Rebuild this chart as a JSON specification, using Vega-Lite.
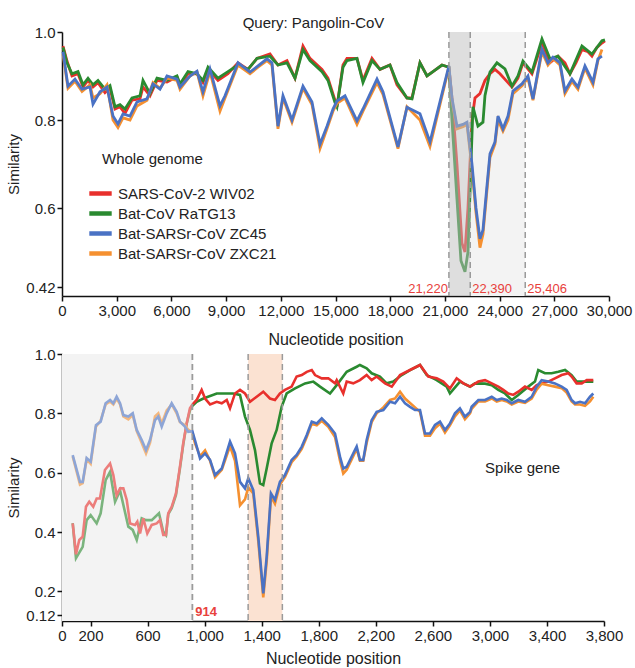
{
"$schema": "https://vega.github.io/schema/vega-lite/v6.json",
"padding": {"left": 6, "top": 16, "right": 4, "bottom": 2},
"config": {"font": "Liberation Sans", "view": {"stroke": null},
 "axis": {"grid": false, "domainColor": "#111", "domainWidth": 1.5, "tickColor": "#111", "tickWidth": 1.5, "tickSize": 5, "labelFontSize": 15, "labelColor": "#222", "titleFontSize": 15, "titleFontWeight": "normal", "titleColor": "#222", "labelPadding": 2, "labelOverlap": false, "labelFlush": false}},
"datasets": {
"top": [
{"pos":55,"sim":0.968,"virus":"SARS-CoV-2 WIV02"},{"pos":274,"sim":0.934,"virus":"SARS-CoV-2 WIV02"},{"pos":548,"sim":0.90,"virus":"SARS-CoV-2 WIV02"},{"pos":877,"sim":0.905,"virus":"SARS-CoV-2 WIV02"},{"pos":1152,"sim":0.875,"virus":"SARS-CoV-2 WIV02"},{"pos":1426,"sim":0.89,"virus":"SARS-CoV-2 WIV02"},{"pos":1700,"sim":0.875,"virus":"SARS-CoV-2 WIV02"},{"pos":1974,"sim":0.885,"virus":"SARS-CoV-2 WIV02"},{"pos":2358,"sim":0.862,"virus":"SARS-CoV-2 WIV02"},{"pos":2632,"sim":0.872,"virus":"SARS-CoV-2 WIV02"},{"pos":2907,"sim":0.825,"virus":"SARS-CoV-2 WIV02"},{"pos":3181,"sim":0.83,"virus":"SARS-CoV-2 WIV02"},{"pos":3455,"sim":0.815,"virus":"SARS-CoV-2 WIV02"},{"pos":3839,"sim":0.845,"virus":"SARS-CoV-2 WIV02"},{"pos":4278,"sim":0.848,"virus":"SARS-CoV-2 WIV02"},{"pos":4442,"sim":0.875,"virus":"SARS-CoV-2 WIV02"},{"pos":4826,"sim":0.855,"virus":"SARS-CoV-2 WIV02"},{"pos":5210,"sim":0.89,"virus":"SARS-CoV-2 WIV02"},{"pos":5758,"sim":0.886,"virus":"SARS-CoV-2 WIV02"},{"pos":6307,"sim":0.898,"virus":"SARS-CoV-2 WIV02"},{"pos":6471,"sim":0.878,"virus":"SARS-CoV-2 WIV02"},{"pos":6910,"sim":0.905,"virus":"SARS-CoV-2 WIV02"},{"pos":7403,"sim":0.905,"virus":"SARS-CoV-2 WIV02"},{"pos":7732,"sim":0.885,"virus":"SARS-CoV-2 WIV02"},{"pos":8007,"sim":0.915,"virus":"SARS-CoV-2 WIV02"},{"pos":8555,"sim":0.89,"virus":"SARS-CoV-2 WIV02"},{"pos":9103,"sim":0.905,"virus":"SARS-CoV-2 WIV02"},{"pos":9652,"sim":0.93,"virus":"SARS-CoV-2 WIV02"},{"pos":10200,"sim":0.915,"virus":"SARS-CoV-2 WIV02"},{"pos":10694,"sim":0.94,"virus":"SARS-CoV-2 WIV02"},{"pos":11407,"sim":0.95,"virus":"SARS-CoV-2 WIV02"},{"pos":11845,"sim":0.925,"virus":"SARS-CoV-2 WIV02"},{"pos":12339,"sim":0.935,"virus":"SARS-CoV-2 WIV02"},{"pos":12778,"sim":0.895,"virus":"SARS-CoV-2 WIV02"},{"pos":13216,"sim":0.968,"virus":"SARS-CoV-2 WIV02"},{"pos":13600,"sim":0.94,"virus":"SARS-CoV-2 WIV02"},{"pos":14258,"sim":0.915,"virus":"SARS-CoV-2 WIV02"},{"pos":14587,"sim":0.895,"virus":"SARS-CoV-2 WIV02"},{"pos":14971,"sim":0.845,"virus":"SARS-CoV-2 WIV02"},{"pos":15081,"sim":0.83,"virus":"SARS-CoV-2 WIV02"},{"pos":15410,"sim":0.925,"virus":"SARS-CoV-2 WIV02"},{"pos":15629,"sim":0.94,"virus":"SARS-CoV-2 WIV02"},{"pos":16178,"sim":0.94,"virus":"SARS-CoV-2 WIV02"},{"pos":16507,"sim":0.89,"virus":"SARS-CoV-2 WIV02"},{"pos":17000,"sim":0.94,"virus":"SARS-CoV-2 WIV02"},{"pos":17439,"sim":0.915,"virus":"SARS-CoV-2 WIV02"},{"pos":17988,"sim":0.925,"virus":"SARS-CoV-2 WIV02"},{"pos":18371,"sim":0.88,"virus":"SARS-CoV-2 WIV02"},{"pos":18920,"sim":0.85,"virus":"SARS-CoV-2 WIV02"},{"pos":19194,"sim":0.85,"virus":"SARS-CoV-2 WIV02"},{"pos":19633,"sim":0.93,"virus":"SARS-CoV-2 WIV02"},{"pos":20017,"sim":0.90,"virus":"SARS-CoV-2 WIV02"},{"pos":20346,"sim":0.91,"virus":"SARS-CoV-2 WIV02"},{"pos":20839,"sim":0.925,"virus":"SARS-CoV-2 WIV02"},{"pos":21220,"sim":0.92,"virus":"SARS-CoV-2 WIV02"},{"pos":21388,"sim":0.85,"virus":"SARS-CoV-2 WIV02"},{"pos":21662,"sim":0.70,"virus":"SARS-CoV-2 WIV02"},{"pos":21936,"sim":0.52,"virus":"SARS-CoV-2 WIV02"},{"pos":22101,"sim":0.50,"virus":"SARS-CoV-2 WIV02"},{"pos":22265,"sim":0.60,"virus":"SARS-CoV-2 WIV02"},{"pos":22484,"sim":0.80,"virus":"SARS-CoV-2 WIV02"},{"pos":22649,"sim":0.85,"virus":"SARS-CoV-2 WIV02"},{"pos":22923,"sim":0.86,"virus":"SARS-CoV-2 WIV02"},{"pos":23197,"sim":0.89,"virus":"SARS-CoV-2 WIV02"},{"pos":23472,"sim":0.905,"virus":"SARS-CoV-2 WIV02"},{"pos":23746,"sim":0.915,"virus":"SARS-CoV-2 WIV02"},{"pos":24020,"sim":0.905,"virus":"SARS-CoV-2 WIV02"},{"pos":24459,"sim":0.885,"virus":"SARS-CoV-2 WIV02"},{"pos":24678,"sim":0.875,"virus":"SARS-CoV-2 WIV02"},{"pos":25007,"sim":0.895,"virus":"SARS-CoV-2 WIV02"},{"pos":25281,"sim":0.93,"virus":"SARS-CoV-2 WIV02"},{"pos":25775,"sim":0.905,"virus":"SARS-CoV-2 WIV02"},{"pos":26323,"sim":0.975,"virus":"SARS-CoV-2 WIV02"},{"pos":26762,"sim":0.93,"virus":"SARS-CoV-2 WIV02"},{"pos":27201,"sim":0.945,"virus":"SARS-CoV-2 WIV02"},{"pos":27584,"sim":0.93,"virus":"SARS-CoV-2 WIV02"},{"pos":27859,"sim":0.905,"virus":"SARS-CoV-2 WIV02"},{"pos":28188,"sim":0.93,"virus":"SARS-CoV-2 WIV02"},{"pos":28517,"sim":0.96,"virus":"SARS-CoV-2 WIV02"},{"pos":28846,"sim":0.955,"virus":"SARS-CoV-2 WIV02"},{"pos":29065,"sim":0.945,"virus":"SARS-CoV-2 WIV02"},{"pos":29339,"sim":0.965,"virus":"SARS-CoV-2 WIV02"},{"pos":29614,"sim":0.975,"virus":"SARS-CoV-2 WIV02"},{"pos":29778,"sim":0.98,"virus":"SARS-CoV-2 WIV02"},
{"pos":55,"sim":0.965,"virus":"Bat-CoV RaTG13"},{"pos":274,"sim":0.93,"virus":"Bat-CoV RaTG13"},{"pos":548,"sim":0.905,"virus":"Bat-CoV RaTG13"},{"pos":877,"sim":0.91,"virus":"Bat-CoV RaTG13"},{"pos":1152,"sim":0.88,"virus":"Bat-CoV RaTG13"},{"pos":1426,"sim":0.895,"virus":"Bat-CoV RaTG13"},{"pos":1700,"sim":0.88,"virus":"Bat-CoV RaTG13"},{"pos":1974,"sim":0.89,"virus":"Bat-CoV RaTG13"},{"pos":2358,"sim":0.87,"virus":"Bat-CoV RaTG13"},{"pos":2632,"sim":0.878,"virus":"Bat-CoV RaTG13"},{"pos":2907,"sim":0.83,"virus":"Bat-CoV RaTG13"},{"pos":3181,"sim":0.835,"virus":"Bat-CoV RaTG13"},{"pos":3455,"sim":0.825,"virus":"Bat-CoV RaTG13"},{"pos":3839,"sim":0.85,"virus":"Bat-CoV RaTG13"},{"pos":4278,"sim":0.855,"virus":"Bat-CoV RaTG13"},{"pos":4442,"sim":0.89,"virus":"Bat-CoV RaTG13"},{"pos":4826,"sim":0.86,"virus":"Bat-CoV RaTG13"},{"pos":5210,"sim":0.895,"virus":"Bat-CoV RaTG13"},{"pos":5758,"sim":0.89,"virus":"Bat-CoV RaTG13"},{"pos":6307,"sim":0.90,"virus":"Bat-CoV RaTG13"},{"pos":6471,"sim":0.882,"virus":"Bat-CoV RaTG13"},{"pos":6910,"sim":0.91,"virus":"Bat-CoV RaTG13"},{"pos":7403,"sim":0.905,"virus":"Bat-CoV RaTG13"},{"pos":7732,"sim":0.89,"virus":"Bat-CoV RaTG13"},{"pos":8007,"sim":0.92,"virus":"Bat-CoV RaTG13"},{"pos":8555,"sim":0.895,"virus":"Bat-CoV RaTG13"},{"pos":9103,"sim":0.91,"virus":"Bat-CoV RaTG13"},{"pos":9652,"sim":0.925,"virus":"Bat-CoV RaTG13"},{"pos":10200,"sim":0.915,"virus":"Bat-CoV RaTG13"},{"pos":10694,"sim":0.94,"virus":"Bat-CoV RaTG13"},{"pos":11407,"sim":0.945,"virus":"Bat-CoV RaTG13"},{"pos":11845,"sim":0.925,"virus":"Bat-CoV RaTG13"},{"pos":12339,"sim":0.93,"virus":"Bat-CoV RaTG13"},{"pos":12778,"sim":0.895,"virus":"Bat-CoV RaTG13"},{"pos":13216,"sim":0.96,"virus":"Bat-CoV RaTG13"},{"pos":13600,"sim":0.935,"virus":"Bat-CoV RaTG13"},{"pos":14258,"sim":0.91,"virus":"Bat-CoV RaTG13"},{"pos":14587,"sim":0.89,"virus":"Bat-CoV RaTG13"},{"pos":14971,"sim":0.84,"virus":"Bat-CoV RaTG13"},{"pos":15081,"sim":0.83,"virus":"Bat-CoV RaTG13"},{"pos":15410,"sim":0.92,"virus":"Bat-CoV RaTG13"},{"pos":15629,"sim":0.935,"virus":"Bat-CoV RaTG13"},{"pos":16178,"sim":0.94,"virus":"Bat-CoV RaTG13"},{"pos":16507,"sim":0.885,"virus":"Bat-CoV RaTG13"},{"pos":17000,"sim":0.935,"virus":"Bat-CoV RaTG13"},{"pos":17439,"sim":0.915,"virus":"Bat-CoV RaTG13"},{"pos":17988,"sim":0.925,"virus":"Bat-CoV RaTG13"},{"pos":18371,"sim":0.885,"virus":"Bat-CoV RaTG13"},{"pos":18920,"sim":0.85,"virus":"Bat-CoV RaTG13"},{"pos":19194,"sim":0.848,"virus":"Bat-CoV RaTG13"},{"pos":19633,"sim":0.93,"virus":"Bat-CoV RaTG13"},{"pos":20017,"sim":0.90,"virus":"Bat-CoV RaTG13"},{"pos":20346,"sim":0.91,"virus":"Bat-CoV RaTG13"},{"pos":20839,"sim":0.925,"virus":"Bat-CoV RaTG13"},{"pos":21220,"sim":0.92,"virus":"Bat-CoV RaTG13"},{"pos":21388,"sim":0.80,"virus":"Bat-CoV RaTG13"},{"pos":21662,"sim":0.62,"virus":"Bat-CoV RaTG13"},{"pos":21881,"sim":0.48,"virus":"Bat-CoV RaTG13"},{"pos":22101,"sim":0.455,"virus":"Bat-CoV RaTG13"},{"pos":22265,"sim":0.50,"virus":"Bat-CoV RaTG13"},{"pos":22430,"sim":0.70,"virus":"Bat-CoV RaTG13"},{"pos":22539,"sim":0.83,"virus":"Bat-CoV RaTG13"},{"pos":22813,"sim":0.786,"virus":"Bat-CoV RaTG13"},{"pos":23088,"sim":0.795,"virus":"Bat-CoV RaTG13"},{"pos":23197,"sim":0.855,"virus":"Bat-CoV RaTG13"},{"pos":23472,"sim":0.909,"virus":"Bat-CoV RaTG13"},{"pos":23855,"sim":0.93,"virus":"Bat-CoV RaTG13"},{"pos":24294,"sim":0.916,"virus":"Bat-CoV RaTG13"},{"pos":24678,"sim":0.877,"virus":"Bat-CoV RaTG13"},{"pos":25007,"sim":0.90,"virus":"Bat-CoV RaTG13"},{"pos":25281,"sim":0.934,"virus":"Bat-CoV RaTG13"},{"pos":25775,"sim":0.909,"virus":"Bat-CoV RaTG13"},{"pos":26323,"sim":0.984,"virus":"Bat-CoV RaTG13"},{"pos":26762,"sim":0.939,"virus":"Bat-CoV RaTG13"},{"pos":27201,"sim":0.945,"virus":"Bat-CoV RaTG13"},{"pos":27859,"sim":0.905,"virus":"Bat-CoV RaTG13"},{"pos":28517,"sim":0.968,"virus":"Bat-CoV RaTG13"},{"pos":29065,"sim":0.95,"virus":"Bat-CoV RaTG13"},{"pos":29614,"sim":0.98,"virus":"Bat-CoV RaTG13"},{"pos":29778,"sim":0.982,"virus":"Bat-CoV RaTG13"},
{"pos":55,"sim":0.95,"virus":"Bat-SARSr-CoV ZXC21"},{"pos":329,"sim":0.872,"virus":"Bat-SARSr-CoV ZXC21"},{"pos":713,"sim":0.888,"virus":"Bat-SARSr-CoV ZXC21"},{"pos":1097,"sim":0.865,"virus":"Bat-SARSr-CoV ZXC21"},{"pos":1536,"sim":0.88,"virus":"Bat-SARSr-CoV ZXC21"},{"pos":1700,"sim":0.85,"virus":"Bat-SARSr-CoV ZXC21"},{"pos":2084,"sim":0.86,"virus":"Bat-SARSr-CoV ZXC21"},{"pos":2468,"sim":0.88,"virus":"Bat-SARSr-CoV ZXC21"},{"pos":2797,"sim":0.80,"virus":"Bat-SARSr-CoV ZXC21"},{"pos":3071,"sim":0.783,"virus":"Bat-SARSr-CoV ZXC21"},{"pos":3345,"sim":0.805,"virus":"Bat-SARSr-CoV ZXC21"},{"pos":3729,"sim":0.80,"virus":"Bat-SARSr-CoV ZXC21"},{"pos":4113,"sim":0.832,"virus":"Bat-SARSr-CoV ZXC21"},{"pos":4661,"sim":0.845,"virus":"Bat-SARSr-CoV ZXC21"},{"pos":4990,"sim":0.885,"virus":"Bat-SARSr-CoV ZXC21"},{"pos":5374,"sim":0.872,"virus":"Bat-SARSr-CoV ZXC21"},{"pos":5758,"sim":0.895,"virus":"Bat-SARSr-CoV ZXC21"},{"pos":6307,"sim":0.89,"virus":"Bat-SARSr-CoV ZXC21"},{"pos":6471,"sim":0.87,"virus":"Bat-SARSr-CoV ZXC21"},{"pos":7020,"sim":0.90,"virus":"Bat-SARSr-CoV ZXC21"},{"pos":7403,"sim":0.91,"virus":"Bat-SARSr-CoV ZXC21"},{"pos":7732,"sim":0.855,"virus":"Bat-SARSr-CoV ZXC21"},{"pos":8116,"sim":0.91,"virus":"Bat-SARSr-CoV ZXC21"},{"pos":8665,"sim":0.82,"virus":"Bat-SARSr-CoV ZXC21"},{"pos":8939,"sim":0.85,"virus":"Bat-SARSr-CoV ZXC21"},{"pos":9652,"sim":0.925,"virus":"Bat-SARSr-CoV ZXC21"},{"pos":10310,"sim":0.905,"virus":"Bat-SARSr-CoV ZXC21"},{"pos":10749,"sim":0.92,"virus":"Bat-SARSr-CoV ZXC21"},{"pos":11242,"sim":0.935,"virus":"Bat-SARSr-CoV ZXC21"},{"pos":11516,"sim":0.925,"virus":"Bat-SARSr-CoV ZXC21"},{"pos":11845,"sim":0.78,"virus":"Bat-SARSr-CoV ZXC21"},{"pos":12120,"sim":0.85,"virus":"Bat-SARSr-CoV ZXC21"},{"pos":12613,"sim":0.795,"virus":"Bat-SARSr-CoV ZXC21"},{"pos":13216,"sim":0.872,"virus":"Bat-SARSr-CoV ZXC21"},{"pos":13710,"sim":0.835,"virus":"Bat-SARSr-CoV ZXC21"},{"pos":14149,"sim":0.735,"virus":"Bat-SARSr-CoV ZXC21"},{"pos":14533,"sim":0.78,"virus":"Bat-SARSr-CoV ZXC21"},{"pos":14862,"sim":0.82,"virus":"Bat-SARSr-CoV ZXC21"},{"pos":15081,"sim":0.838,"virus":"Bat-SARSr-CoV ZXC21"},{"pos":15520,"sim":0.85,"virus":"Bat-SARSr-CoV ZXC21"},{"pos":16178,"sim":0.79,"virus":"Bat-SARSr-CoV ZXC21"},{"pos":16507,"sim":0.82,"virus":"Bat-SARSr-CoV ZXC21"},{"pos":17275,"sim":0.885,"virus":"Bat-SARSr-CoV ZXC21"},{"pos":17604,"sim":0.858,"virus":"Bat-SARSr-CoV ZXC21"},{"pos":18426,"sim":0.735,"virus":"Bat-SARSr-CoV ZXC21"},{"pos":18920,"sim":0.83,"virus":"Bat-SARSr-CoV ZXC21"},{"pos":19633,"sim":0.80,"virus":"Bat-SARSr-CoV ZXC21"},{"pos":20181,"sim":0.74,"virus":"Bat-SARSr-CoV ZXC21"},{"pos":21220,"sim":0.92,"virus":"Bat-SARSr-CoV ZXC21"},{"pos":21388,"sim":0.845,"virus":"Bat-SARSr-CoV ZXC21"},{"pos":21662,"sim":0.78,"virus":"Bat-SARSr-CoV ZXC21"},{"pos":21991,"sim":0.785,"virus":"Bat-SARSr-CoV ZXC21"},{"pos":22210,"sim":0.79,"virus":"Bat-SARSr-CoV ZXC21"},{"pos":22484,"sim":0.69,"virus":"Bat-SARSr-CoV ZXC21"},{"pos":22704,"sim":0.59,"virus":"Bat-SARSr-CoV ZXC21"},{"pos":22923,"sim":0.51,"virus":"Bat-SARSr-CoV ZXC21"},{"pos":23088,"sim":0.54,"virus":"Bat-SARSr-CoV ZXC21"},{"pos":23307,"sim":0.64,"virus":"Bat-SARSr-CoV ZXC21"},{"pos":23472,"sim":0.715,"virus":"Bat-SARSr-CoV ZXC21"},{"pos":23746,"sim":0.745,"virus":"Bat-SARSr-CoV ZXC21"},{"pos":23910,"sim":0.80,"virus":"Bat-SARSr-CoV ZXC21"},{"pos":24184,"sim":0.775,"virus":"Bat-SARSr-CoV ZXC21"},{"pos":24459,"sim":0.80,"virus":"Bat-SARSr-CoV ZXC21"},{"pos":24733,"sim":0.86,"virus":"Bat-SARSr-CoV ZXC21"},{"pos":25226,"sim":0.878,"virus":"Bat-SARSr-CoV ZXC21"},{"pos":25555,"sim":0.895,"virus":"Bat-SARSr-CoV ZXC21"},{"pos":25830,"sim":0.845,"virus":"Bat-SARSr-CoV ZXC21"},{"pos":26323,"sim":0.955,"virus":"Bat-SARSr-CoV ZXC21"},{"pos":26652,"sim":0.925,"virus":"Bat-SARSr-CoV ZXC21"},{"pos":26926,"sim":0.94,"virus":"Bat-SARSr-CoV ZXC21"},{"pos":27310,"sim":0.925,"virus":"Bat-SARSr-CoV ZXC21"},{"pos":27584,"sim":0.86,"virus":"Bat-SARSr-CoV ZXC21"},{"pos":27968,"sim":0.888,"virus":"Bat-SARSr-CoV ZXC21"},{"pos":28298,"sim":0.87,"virus":"Bat-SARSr-CoV ZXC21"},{"pos":28681,"sim":0.918,"virus":"Bat-SARSr-CoV ZXC21"},{"pos":29120,"sim":0.88,"virus":"Bat-SARSr-CoV ZXC21"},{"pos":29394,"sim":0.935,"virus":"Bat-SARSr-CoV ZXC21"},{"pos":29614,"sim":0.96,"virus":"Bat-SARSr-CoV ZXC21"},
{"pos":55,"sim":0.955,"virus":"Bat-SARSr-CoV ZC45"},{"pos":329,"sim":0.877,"virus":"Bat-SARSr-CoV ZC45"},{"pos":713,"sim":0.893,"virus":"Bat-SARSr-CoV ZC45"},{"pos":1097,"sim":0.87,"virus":"Bat-SARSr-CoV ZC45"},{"pos":1536,"sim":0.875,"virus":"Bat-SARSr-CoV ZC45"},{"pos":1700,"sim":0.836,"virus":"Bat-SARSr-CoV ZC45"},{"pos":2084,"sim":0.864,"virus":"Bat-SARSr-CoV ZC45"},{"pos":2468,"sim":0.875,"virus":"Bat-SARSr-CoV ZC45"},{"pos":2797,"sim":0.809,"virus":"Bat-SARSr-CoV ZC45"},{"pos":3071,"sim":0.791,"virus":"Bat-SARSr-CoV ZC45"},{"pos":3345,"sim":0.814,"virus":"Bat-SARSr-CoV ZC45"},{"pos":3729,"sim":0.809,"virus":"Bat-SARSr-CoV ZC45"},{"pos":4113,"sim":0.841,"virus":"Bat-SARSr-CoV ZC45"},{"pos":4661,"sim":0.848,"virus":"Bat-SARSr-CoV ZC45"},{"pos":4990,"sim":0.882,"virus":"Bat-SARSr-CoV ZC45"},{"pos":5374,"sim":0.87,"virus":"Bat-SARSr-CoV ZC45"},{"pos":5758,"sim":0.90,"virus":"Bat-SARSr-CoV ZC45"},{"pos":6307,"sim":0.893,"virus":"Bat-SARSr-CoV ZC45"},{"pos":6471,"sim":0.875,"virus":"Bat-SARSr-CoV ZC45"},{"pos":7020,"sim":0.90,"virus":"Bat-SARSr-CoV ZC45"},{"pos":7403,"sim":0.911,"virus":"Bat-SARSr-CoV ZC45"},{"pos":7732,"sim":0.864,"virus":"Bat-SARSr-CoV ZC45"},{"pos":8116,"sim":0.916,"virus":"Bat-SARSr-CoV ZC45"},{"pos":8665,"sim":0.832,"virus":"Bat-SARSr-CoV ZC45"},{"pos":8939,"sim":0.855,"virus":"Bat-SARSr-CoV ZC45"},{"pos":9652,"sim":0.93,"virus":"Bat-SARSr-CoV ZC45"},{"pos":10310,"sim":0.909,"virus":"Bat-SARSr-CoV ZC45"},{"pos":10749,"sim":0.923,"virus":"Bat-SARSr-CoV ZC45"},{"pos":11242,"sim":0.939,"virus":"Bat-SARSr-CoV ZC45"},{"pos":11516,"sim":0.93,"virus":"Bat-SARSr-CoV ZC45"},{"pos":11845,"sim":0.786,"virus":"Bat-SARSr-CoV ZC45"},{"pos":12120,"sim":0.855,"virus":"Bat-SARSr-CoV ZC45"},{"pos":12613,"sim":0.80,"virus":"Bat-SARSr-CoV ZC45"},{"pos":13216,"sim":0.877,"virus":"Bat-SARSr-CoV ZC45"},{"pos":13710,"sim":0.841,"virus":"Bat-SARSr-CoV ZC45"},{"pos":14149,"sim":0.745,"virus":"Bat-SARSr-CoV ZC45"},{"pos":14533,"sim":0.786,"virus":"Bat-SARSr-CoV ZC45"},{"pos":14862,"sim":0.825,"virus":"Bat-SARSr-CoV ZC45"},{"pos":15081,"sim":0.843,"virus":"Bat-SARSr-CoV ZC45"},{"pos":15520,"sim":0.855,"virus":"Bat-SARSr-CoV ZC45"},{"pos":16178,"sim":0.798,"virus":"Bat-SARSr-CoV ZC45"},{"pos":16507,"sim":0.825,"virus":"Bat-SARSr-CoV ZC45"},{"pos":17275,"sim":0.893,"virus":"Bat-SARSr-CoV ZC45"},{"pos":17604,"sim":0.864,"virus":"Bat-SARSr-CoV ZC45"},{"pos":18426,"sim":0.739,"virus":"Bat-SARSr-CoV ZC45"},{"pos":18920,"sim":0.829,"virus":"Bat-SARSr-CoV ZC45"},{"pos":19633,"sim":0.814,"virus":"Bat-SARSr-CoV ZC45"},{"pos":20181,"sim":0.75,"virus":"Bat-SARSr-CoV ZC45"},{"pos":21220,"sim":0.923,"virus":"Bat-SARSr-CoV ZC45"},{"pos":21388,"sim":0.85,"virus":"Bat-SARSr-CoV ZC45"},{"pos":21662,"sim":0.786,"virus":"Bat-SARSr-CoV ZC45"},{"pos":21991,"sim":0.79,"virus":"Bat-SARSr-CoV ZC45"},{"pos":22210,"sim":0.795,"virus":"Bat-SARSr-CoV ZC45"},{"pos":22484,"sim":0.70,"virus":"Bat-SARSr-CoV ZC45"},{"pos":22704,"sim":0.60,"virus":"Bat-SARSr-CoV ZC45"},{"pos":22923,"sim":0.53,"virus":"Bat-SARSr-CoV ZC45"},{"pos":23088,"sim":0.55,"virus":"Bat-SARSr-CoV ZC45"},{"pos":23307,"sim":0.65,"virus":"Bat-SARSr-CoV ZC45"},{"pos":23472,"sim":0.723,"virus":"Bat-SARSr-CoV ZC45"},{"pos":23746,"sim":0.75,"virus":"Bat-SARSr-CoV ZC45"},{"pos":23910,"sim":0.809,"virus":"Bat-SARSr-CoV ZC45"},{"pos":24184,"sim":0.78,"virus":"Bat-SARSr-CoV ZC45"},{"pos":24459,"sim":0.809,"virus":"Bat-SARSr-CoV ZC45"},{"pos":24733,"sim":0.866,"virus":"Bat-SARSr-CoV ZC45"},{"pos":25226,"sim":0.882,"virus":"Bat-SARSr-CoV ZC45"},{"pos":25555,"sim":0.90,"virus":"Bat-SARSr-CoV ZC45"},{"pos":25830,"sim":0.848,"virus":"Bat-SARSr-CoV ZC45"},{"pos":26323,"sim":0.961,"virus":"Bat-SARSr-CoV ZC45"},{"pos":26652,"sim":0.93,"virus":"Bat-SARSr-CoV ZC45"},{"pos":26926,"sim":0.943,"virus":"Bat-SARSr-CoV ZC45"},{"pos":27310,"sim":0.93,"virus":"Bat-SARSr-CoV ZC45"},{"pos":27584,"sim":0.866,"virus":"Bat-SARSr-CoV ZC45"},{"pos":27968,"sim":0.893,"virus":"Bat-SARSr-CoV ZC45"},{"pos":28298,"sim":0.875,"virus":"Bat-SARSr-CoV ZC45"},{"pos":28681,"sim":0.923,"virus":"Bat-SARSr-CoV ZC45"},{"pos":29120,"sim":0.886,"virus":"Bat-SARSr-CoV ZC45"},{"pos":29394,"sim":0.939,"virus":"Bat-SARSr-CoV ZC45"},{"pos":29614,"sim":0.945,"virus":"Bat-SARSr-CoV ZC45"}
],
"bottom": [
{"pos":75,"sim":0.43,"virus":"Bat-CoV RaTG13"},{"pos":98,"sim":0.312,"virus":"Bat-CoV RaTG13"},{"pos":145,"sim":0.35,"virus":"Bat-CoV RaTG13"},{"pos":173,"sim":0.44,"virus":"Bat-CoV RaTG13"},{"pos":201,"sim":0.457,"virus":"Bat-CoV RaTG13"},{"pos":243,"sim":0.429,"virus":"Bat-CoV RaTG13"},{"pos":271,"sim":0.463,"virus":"Bat-CoV RaTG13"},{"pos":306,"sim":0.575,"virus":"Bat-CoV RaTG13"},{"pos":337,"sim":0.603,"virus":"Bat-CoV RaTG13"},{"pos":372,"sim":0.502,"virus":"Bat-CoV RaTG13"},{"pos":407,"sim":0.54,"virus":"Bat-CoV RaTG13"},{"pos":465,"sim":0.418,"virus":"Bat-CoV RaTG13"},{"pos":496,"sim":0.407,"virus":"Bat-CoV RaTG13"},{"pos":524,"sim":0.373,"virus":"Bat-CoV RaTG13"},{"pos":559,"sim":0.446,"virus":"Bat-CoV RaTG13"},{"pos":589,"sim":0.44,"virus":"Bat-CoV RaTG13"},{"pos":629,"sim":0.44,"virus":"Bat-CoV RaTG13"},{"pos":680,"sim":0.463,"virus":"Bat-CoV RaTG13"},{"pos":710,"sim":0.401,"virus":"Bat-CoV RaTG13"},{"pos":729,"sim":0.39,"virus":"Bat-CoV RaTG13"},{"pos":745,"sim":0.46,"virus":"Bat-CoV RaTG13"},{"pos":769,"sim":0.48,"virus":"Bat-CoV RaTG13"},{"pos":799,"sim":0.525,"virus":"Bat-CoV RaTG13"},{"pos":827,"sim":0.615,"virus":"Bat-CoV RaTG13"},{"pos":850,"sim":0.695,"virus":"Bat-CoV RaTG13"},{"pos":874,"sim":0.765,"virus":"Bat-CoV RaTG13"},{"pos":897,"sim":0.81,"virus":"Bat-CoV RaTG13"},{"pos":914,"sim":0.825,"virus":"Bat-CoV RaTG13"},{"pos":944,"sim":0.839,"virus":"Bat-CoV RaTG13"},{"pos":991,"sim":0.85,"virus":"Bat-CoV RaTG13"},{"pos":1085,"sim":0.867,"virus":"Bat-CoV RaTG13"},{"pos":1164,"sim":0.867,"virus":"Bat-CoV RaTG13"},{"pos":1199,"sim":0.867,"virus":"Bat-CoV RaTG13"},{"pos":1248,"sim":0.862,"virus":"Bat-CoV RaTG13"},{"pos":1283,"sim":0.789,"virus":"Bat-CoV RaTG13"},{"pos":1318,"sim":0.744,"virus":"Bat-CoV RaTG13"},{"pos":1353,"sim":0.676,"virus":"Bat-CoV RaTG13"},{"pos":1388,"sim":0.564,"virus":"Bat-CoV RaTG13"},{"pos":1411,"sim":0.558,"virus":"Bat-CoV RaTG13"},{"pos":1435,"sim":0.614,"virus":"Bat-CoV RaTG13"},{"pos":1470,"sim":0.699,"virus":"Bat-CoV RaTG13"},{"pos":1505,"sim":0.744,"virus":"Bat-CoV RaTG13"},{"pos":1540,"sim":0.822,"virus":"Bat-CoV RaTG13"},{"pos":1575,"sim":0.867,"virus":"Bat-CoV RaTG13"},{"pos":1634,"sim":0.884,"virus":"Bat-CoV RaTG13"},{"pos":1704,"sim":0.901,"virus":"Bat-CoV RaTG13"},{"pos":1762,"sim":0.907,"virus":"Bat-CoV RaTG13"},{"pos":1809,"sim":0.89,"virus":"Bat-CoV RaTG13"},{"pos":1879,"sim":0.867,"virus":"Bat-CoV RaTG13"},{"pos":1926,"sim":0.895,"virus":"Bat-CoV RaTG13"},{"pos":1996,"sim":0.94,"virus":"Bat-CoV RaTG13"},{"pos":2066,"sim":0.957,"virus":"Bat-CoV RaTG13"},{"pos":2089,"sim":0.963,"virus":"Bat-CoV RaTG13"},{"pos":2136,"sim":0.952,"virus":"Bat-CoV RaTG13"},{"pos":2171,"sim":0.935,"virus":"Bat-CoV RaTG13"},{"pos":2229,"sim":0.924,"virus":"Bat-CoV RaTG13"},{"pos":2276,"sim":0.901,"virus":"Bat-CoV RaTG13"},{"pos":2323,"sim":0.907,"virus":"Bat-CoV RaTG13"},{"pos":2382,"sim":0.929,"virus":"Bat-CoV RaTG13"},{"pos":2440,"sim":0.946,"virus":"Bat-CoV RaTG13"},{"pos":2510,"sim":0.963,"virus":"Bat-CoV RaTG13"},{"pos":2557,"sim":0.929,"virus":"Bat-CoV RaTG13"},{"pos":2627,"sim":0.912,"virus":"Bat-CoV RaTG13"},{"pos":2697,"sim":0.89,"virus":"Bat-CoV RaTG13"},{"pos":2720,"sim":0.867,"virus":"Bat-CoV RaTG13"},{"pos":2790,"sim":0.907,"virus":"Bat-CoV RaTG13"},{"pos":2861,"sim":0.89,"virus":"Bat-CoV RaTG13"},{"pos":2896,"sim":0.901,"virus":"Bat-CoV RaTG13"},{"pos":2966,"sim":0.90,"virus":"Bat-CoV RaTG13"},{"pos":3013,"sim":0.895,"virus":"Bat-CoV RaTG13"},{"pos":3059,"sim":0.879,"virus":"Bat-CoV RaTG13"},{"pos":3106,"sim":0.867,"virus":"Bat-CoV RaTG13"},{"pos":3153,"sim":0.845,"virus":"Bat-CoV RaTG13"},{"pos":3199,"sim":0.862,"virus":"Bat-CoV RaTG13"},{"pos":3269,"sim":0.89,"virus":"Bat-CoV RaTG13"},{"pos":3316,"sim":0.907,"virus":"Bat-CoV RaTG13"},{"pos":3339,"sim":0.946,"virus":"Bat-CoV RaTG13"},{"pos":3386,"sim":0.935,"virus":"Bat-CoV RaTG13"},{"pos":3433,"sim":0.935,"virus":"Bat-CoV RaTG13"},{"pos":3480,"sim":0.94,"virus":"Bat-CoV RaTG13"},{"pos":3527,"sim":0.946,"virus":"Bat-CoV RaTG13"},{"pos":3573,"sim":0.929,"virus":"Bat-CoV RaTG13"},{"pos":3608,"sim":0.907,"virus":"Bat-CoV RaTG13"},{"pos":3667,"sim":0.907,"virus":"Bat-CoV RaTG13"},{"pos":3725,"sim":0.907,"virus":"Bat-CoV RaTG13"},
{"pos":75,"sim":0.429,"virus":"SARS-CoV-2 WIV02"},{"pos":98,"sim":0.325,"virus":"SARS-CoV-2 WIV02"},{"pos":121,"sim":0.373,"virus":"SARS-CoV-2 WIV02"},{"pos":145,"sim":0.384,"virus":"SARS-CoV-2 WIV02"},{"pos":168,"sim":0.485,"virus":"SARS-CoV-2 WIV02"},{"pos":191,"sim":0.502,"virus":"SARS-CoV-2 WIV02"},{"pos":219,"sim":0.485,"virus":"SARS-CoV-2 WIV02"},{"pos":243,"sim":0.513,"virus":"SARS-CoV-2 WIV02"},{"pos":266,"sim":0.513,"virus":"SARS-CoV-2 WIV02"},{"pos":301,"sim":0.609,"virus":"SARS-CoV-2 WIV02"},{"pos":337,"sim":0.631,"virus":"SARS-CoV-2 WIV02"},{"pos":360,"sim":0.592,"virus":"SARS-CoV-2 WIV02"},{"pos":383,"sim":0.524,"virus":"SARS-CoV-2 WIV02"},{"pos":407,"sim":0.547,"virus":"SARS-CoV-2 WIV02"},{"pos":430,"sim":0.547,"virus":"SARS-CoV-2 WIV02"},{"pos":454,"sim":0.508,"virus":"SARS-CoV-2 WIV02"},{"pos":477,"sim":0.429,"virus":"SARS-CoV-2 WIV02"},{"pos":512,"sim":0.424,"virus":"SARS-CoV-2 WIV02"},{"pos":528,"sim":0.435,"virus":"SARS-CoV-2 WIV02"},{"pos":547,"sim":0.395,"virus":"SARS-CoV-2 WIV02"},{"pos":570,"sim":0.446,"virus":"SARS-CoV-2 WIV02"},{"pos":598,"sim":0.395,"virus":"SARS-CoV-2 WIV02"},{"pos":629,"sim":0.424,"virus":"SARS-CoV-2 WIV02"},{"pos":664,"sim":0.429,"virus":"SARS-CoV-2 WIV02"},{"pos":687,"sim":0.44,"virus":"SARS-CoV-2 WIV02"},{"pos":710,"sim":0.39,"virus":"SARS-CoV-2 WIV02"},{"pos":729,"sim":0.39,"virus":"SARS-CoV-2 WIV02"},{"pos":745,"sim":0.463,"virus":"SARS-CoV-2 WIV02"},{"pos":769,"sim":0.485,"virus":"SARS-CoV-2 WIV02"},{"pos":799,"sim":0.53,"virus":"SARS-CoV-2 WIV02"},{"pos":827,"sim":0.62,"virus":"SARS-CoV-2 WIV02"},{"pos":850,"sim":0.699,"virus":"SARS-CoV-2 WIV02"},{"pos":874,"sim":0.766,"virus":"SARS-CoV-2 WIV02"},{"pos":897,"sim":0.817,"virus":"SARS-CoV-2 WIV02"},{"pos":914,"sim":0.83,"virus":"SARS-CoV-2 WIV02"},{"pos":944,"sim":0.845,"virus":"SARS-CoV-2 WIV02"},{"pos":979,"sim":0.879,"virus":"SARS-CoV-2 WIV02"},{"pos":1003,"sim":0.85,"virus":"SARS-CoV-2 WIV02"},{"pos":1038,"sim":0.83,"virus":"SARS-CoV-2 WIV02"},{"pos":1085,"sim":0.839,"virus":"SARS-CoV-2 WIV02"},{"pos":1120,"sim":0.834,"virus":"SARS-CoV-2 WIV02"},{"pos":1155,"sim":0.845,"virus":"SARS-CoV-2 WIV02"},{"pos":1178,"sim":0.817,"virus":"SARS-CoV-2 WIV02"},{"pos":1213,"sim":0.867,"virus":"SARS-CoV-2 WIV02"},{"pos":1248,"sim":0.879,"virus":"SARS-CoV-2 WIV02"},{"pos":1283,"sim":0.867,"virus":"SARS-CoV-2 WIV02"},{"pos":1318,"sim":0.839,"virus":"SARS-CoV-2 WIV02"},{"pos":1365,"sim":0.856,"virus":"SARS-CoV-2 WIV02"},{"pos":1411,"sim":0.873,"virus":"SARS-CoV-2 WIV02"},{"pos":1458,"sim":0.85,"virus":"SARS-CoV-2 WIV02"},{"pos":1493,"sim":0.845,"virus":"SARS-CoV-2 WIV02"},{"pos":1528,"sim":0.867,"virus":"SARS-CoV-2 WIV02"},{"pos":1563,"sim":0.879,"virus":"SARS-CoV-2 WIV02"},{"pos":1610,"sim":0.89,"virus":"SARS-CoV-2 WIV02"},{"pos":1645,"sim":0.924,"virus":"SARS-CoV-2 WIV02"},{"pos":1681,"sim":0.929,"virus":"SARS-CoV-2 WIV02"},{"pos":1716,"sim":0.94,"virus":"SARS-CoV-2 WIV02"},{"pos":1751,"sim":0.946,"virus":"SARS-CoV-2 WIV02"},{"pos":1774,"sim":0.929,"virus":"SARS-CoV-2 WIV02"},{"pos":1821,"sim":0.918,"virus":"SARS-CoV-2 WIV02"},{"pos":1867,"sim":0.918,"virus":"SARS-CoV-2 WIV02"},{"pos":1914,"sim":0.901,"virus":"SARS-CoV-2 WIV02"},{"pos":1926,"sim":0.912,"virus":"SARS-CoV-2 WIV02"},{"pos":1972,"sim":0.867,"virus":"SARS-CoV-2 WIV02"},{"pos":1996,"sim":0.907,"virus":"SARS-CoV-2 WIV02"},{"pos":2042,"sim":0.901,"virus":"SARS-CoV-2 WIV02"},{"pos":2089,"sim":0.912,"virus":"SARS-CoV-2 WIV02"},{"pos":2136,"sim":0.929,"virus":"SARS-CoV-2 WIV02"},{"pos":2171,"sim":0.912,"virus":"SARS-CoV-2 WIV02"},{"pos":2206,"sim":0.924,"virus":"SARS-CoV-2 WIV02"},{"pos":2265,"sim":0.901,"virus":"SARS-CoV-2 WIV02"},{"pos":2312,"sim":0.89,"virus":"SARS-CoV-2 WIV02"},{"pos":2370,"sim":0.929,"virus":"SARS-CoV-2 WIV02"},{"pos":2440,"sim":0.946,"virus":"SARS-CoV-2 WIV02"},{"pos":2510,"sim":0.963,"virus":"SARS-CoV-2 WIV02"},{"pos":2568,"sim":0.924,"virus":"SARS-CoV-2 WIV02"},{"pos":2627,"sim":0.918,"virus":"SARS-CoV-2 WIV02"},{"pos":2673,"sim":0.907,"virus":"SARS-CoV-2 WIV02"},{"pos":2720,"sim":0.884,"virus":"SARS-CoV-2 WIV02"},{"pos":2767,"sim":0.918,"virus":"SARS-CoV-2 WIV02"},{"pos":2814,"sim":0.901,"virus":"SARS-CoV-2 WIV02"},{"pos":2861,"sim":0.89,"virus":"SARS-CoV-2 WIV02"},{"pos":2919,"sim":0.907,"virus":"SARS-CoV-2 WIV02"},{"pos":2966,"sim":0.912,"virus":"SARS-CoV-2 WIV02"},{"pos":3013,"sim":0.901,"virus":"SARS-CoV-2 WIV02"},{"pos":3059,"sim":0.89,"virus":"SARS-CoV-2 WIV02"},{"pos":3094,"sim":0.879,"virus":"SARS-CoV-2 WIV02"},{"pos":3129,"sim":0.867,"virus":"SARS-CoV-2 WIV02"},{"pos":3164,"sim":0.862,"virus":"SARS-CoV-2 WIV02"},{"pos":3199,"sim":0.873,"virus":"SARS-CoV-2 WIV02"},{"pos":3246,"sim":0.89,"virus":"SARS-CoV-2 WIV02"},{"pos":3293,"sim":0.879,"virus":"SARS-CoV-2 WIV02"},{"pos":3328,"sim":0.895,"virus":"SARS-CoV-2 WIV02"},{"pos":3363,"sim":0.901,"virus":"SARS-CoV-2 WIV02"},{"pos":3409,"sim":0.907,"virus":"SARS-CoV-2 WIV02"},{"pos":3456,"sim":0.918,"virus":"SARS-CoV-2 WIV02"},{"pos":3503,"sim":0.929,"virus":"SARS-CoV-2 WIV02"},{"pos":3550,"sim":0.935,"virus":"SARS-CoV-2 WIV02"},{"pos":3573,"sim":0.924,"virus":"SARS-CoV-2 WIV02"},{"pos":3608,"sim":0.901,"virus":"SARS-CoV-2 WIV02"},{"pos":3644,"sim":0.901,"virus":"SARS-CoV-2 WIV02"},{"pos":3679,"sim":0.912,"virus":"SARS-CoV-2 WIV02"},{"pos":3725,"sim":0.912,"virus":"SARS-CoV-2 WIV02"},
{"pos":75,"sim":0.655,"virus":"Bat-SARSr-CoV ZXC21"},{"pos":126,"sim":0.56,"virus":"Bat-SARSr-CoV ZXC21"},{"pos":145,"sim":0.565,"virus":"Bat-SARSr-CoV ZXC21"},{"pos":173,"sim":0.645,"virus":"Bat-SARSr-CoV ZXC21"},{"pos":201,"sim":0.63,"virus":"Bat-SARSr-CoV ZXC21"},{"pos":238,"sim":0.755,"virus":"Bat-SARSr-CoV ZXC21"},{"pos":271,"sim":0.775,"virus":"Bat-SARSr-CoV ZXC21"},{"pos":306,"sim":0.83,"virus":"Bat-SARSr-CoV ZXC21"},{"pos":337,"sim":0.84,"virus":"Bat-SARSr-CoV ZXC21"},{"pos":360,"sim":0.83,"virus":"Bat-SARSr-CoV ZXC21"},{"pos":383,"sim":0.85,"virus":"Bat-SARSr-CoV ZXC21"},{"pos":407,"sim":0.83,"virus":"Bat-SARSr-CoV ZXC21"},{"pos":430,"sim":0.79,"virus":"Bat-SARSr-CoV ZXC21"},{"pos":465,"sim":0.78,"virus":"Bat-SARSr-CoV ZXC21"},{"pos":496,"sim":0.795,"virus":"Bat-SARSr-CoV ZXC21"},{"pos":524,"sim":0.74,"virus":"Bat-SARSr-CoV ZXC21"},{"pos":559,"sim":0.70,"virus":"Bat-SARSr-CoV ZXC21"},{"pos":589,"sim":0.665,"virus":"Bat-SARSr-CoV ZXC21"},{"pos":617,"sim":0.70,"virus":"Bat-SARSr-CoV ZXC21"},{"pos":652,"sim":0.79,"virus":"Bat-SARSr-CoV ZXC21"},{"pos":675,"sim":0.80,"virus":"Bat-SARSr-CoV ZXC21"},{"pos":699,"sim":0.765,"virus":"Bat-SARSr-CoV ZXC21"},{"pos":734,"sim":0.81,"virus":"Bat-SARSr-CoV ZXC21"},{"pos":769,"sim":0.83,"virus":"Bat-SARSr-CoV ZXC21"},{"pos":804,"sim":0.80,"virus":"Bat-SARSr-CoV ZXC21"},{"pos":827,"sim":0.77,"virus":"Bat-SARSr-CoV ZXC21"},{"pos":862,"sim":0.76,"virus":"Bat-SARSr-CoV ZXC21"},{"pos":885,"sim":0.745,"virus":"Bat-SARSr-CoV ZXC21"},{"pos":914,"sim":0.735,"virus":"Bat-SARSr-CoV ZXC21"},{"pos":932,"sim":0.70,"virus":"Bat-SARSr-CoV ZXC21"},{"pos":968,"sim":0.655,"virus":"Bat-SARSr-CoV ZXC21"},{"pos":1003,"sim":0.675,"virus":"Bat-SARSr-CoV ZXC21"},{"pos":1038,"sim":0.64,"virus":"Bat-SARSr-CoV ZXC21"},{"pos":1073,"sim":0.585,"virus":"Bat-SARSr-CoV ZXC21"},{"pos":1120,"sim":0.61,"virus":"Bat-SARSr-CoV ZXC21"},{"pos":1178,"sim":0.69,"virus":"Bat-SARSr-CoV ZXC21"},{"pos":1213,"sim":0.64,"virus":"Bat-SARSr-CoV ZXC21"},{"pos":1248,"sim":0.49,"virus":"Bat-SARSr-CoV ZXC21"},{"pos":1283,"sim":0.51,"virus":"Bat-SARSr-CoV ZXC21"},{"pos":1306,"sim":0.55,"virus":"Bat-SARSr-CoV ZXC21"},{"pos":1341,"sim":0.53,"virus":"Bat-SARSr-CoV ZXC21"},{"pos":1376,"sim":0.37,"virus":"Bat-SARSr-CoV ZXC21"},{"pos":1411,"sim":0.18,"virus":"Bat-SARSr-CoV ZXC21"},{"pos":1435,"sim":0.30,"virus":"Bat-SARSr-CoV ZXC21"},{"pos":1465,"sim":0.52,"virus":"Bat-SARSr-CoV ZXC21"},{"pos":1493,"sim":0.495,"virus":"Bat-SARSr-CoV ZXC21"},{"pos":1528,"sim":0.56,"virus":"Bat-SARSr-CoV ZXC21"},{"pos":1563,"sim":0.585,"virus":"Bat-SARSr-CoV ZXC21"},{"pos":1610,"sim":0.635,"virus":"Bat-SARSr-CoV ZXC21"},{"pos":1645,"sim":0.655,"virus":"Bat-SARSr-CoV ZXC21"},{"pos":1681,"sim":0.68,"virus":"Bat-SARSr-CoV ZXC21"},{"pos":1716,"sim":0.72,"virus":"Bat-SARSr-CoV ZXC21"},{"pos":1751,"sim":0.765,"virus":"Bat-SARSr-CoV ZXC21"},{"pos":1786,"sim":0.76,"virus":"Bat-SARSr-CoV ZXC21"},{"pos":1821,"sim":0.775,"virus":"Bat-SARSr-CoV ZXC21"},{"pos":1867,"sim":0.755,"virus":"Bat-SARSr-CoV ZXC21"},{"pos":1914,"sim":0.72,"virus":"Bat-SARSr-CoV ZXC21"},{"pos":1949,"sim":0.64,"virus":"Bat-SARSr-CoV ZXC21"},{"pos":1972,"sim":0.597,"virus":"Bat-SARSr-CoV ZXC21"},{"pos":1996,"sim":0.61,"virus":"Bat-SARSr-CoV ZXC21"},{"pos":2031,"sim":0.645,"virus":"Bat-SARSr-CoV ZXC21"},{"pos":2066,"sim":0.68,"virus":"Bat-SARSr-CoV ZXC21"},{"pos":2089,"sim":0.64,"virus":"Bat-SARSr-CoV ZXC21"},{"pos":2112,"sim":0.64,"virus":"Bat-SARSr-CoV ZXC21"},{"pos":2136,"sim":0.70,"virus":"Bat-SARSr-CoV ZXC21"},{"pos":2171,"sim":0.77,"virus":"Bat-SARSr-CoV ZXC21"},{"pos":2206,"sim":0.80,"virus":"Bat-SARSr-CoV ZXC21"},{"pos":2253,"sim":0.82,"virus":"Bat-SARSr-CoV ZXC21"},{"pos":2300,"sim":0.845,"virus":"Bat-SARSr-CoV ZXC21"},{"pos":2335,"sim":0.85,"virus":"Bat-SARSr-CoV ZXC21"},{"pos":2370,"sim":0.873,"virus":"Bat-SARSr-CoV ZXC21"},{"pos":2405,"sim":0.85,"virus":"Bat-SARSr-CoV ZXC21"},{"pos":2440,"sim":0.835,"virus":"Bat-SARSr-CoV ZXC21"},{"pos":2475,"sim":0.82,"virus":"Bat-SARSr-CoV ZXC21"},{"pos":2510,"sim":0.805,"virus":"Bat-SARSr-CoV ZXC21"},{"pos":2545,"sim":0.725,"virus":"Bat-SARSr-CoV ZXC21"},{"pos":2580,"sim":0.725,"virus":"Bat-SARSr-CoV ZXC21"},{"pos":2615,"sim":0.75,"virus":"Bat-SARSr-CoV ZXC21"},{"pos":2650,"sim":0.765,"virus":"Bat-SARSr-CoV ZXC21"},{"pos":2685,"sim":0.735,"virus":"Bat-SARSr-CoV ZXC21"},{"pos":2720,"sim":0.76,"virus":"Bat-SARSr-CoV ZXC21"},{"pos":2755,"sim":0.79,"virus":"Bat-SARSr-CoV ZXC21"},{"pos":2790,"sim":0.81,"virus":"Bat-SARSr-CoV ZXC21"},{"pos":2825,"sim":0.78,"virus":"Bat-SARSr-CoV ZXC21"},{"pos":2861,"sim":0.80,"virus":"Bat-SARSr-CoV ZXC21"},{"pos":2872,"sim":0.815,"virus":"Bat-SARSr-CoV ZXC21"},{"pos":2919,"sim":0.84,"virus":"Bat-SARSr-CoV ZXC21"},{"pos":2966,"sim":0.84,"virus":"Bat-SARSr-CoV ZXC21"},{"pos":3013,"sim":0.85,"virus":"Bat-SARSr-CoV ZXC21"},{"pos":3048,"sim":0.84,"virus":"Bat-SARSr-CoV ZXC21"},{"pos":3083,"sim":0.845,"virus":"Bat-SARSr-CoV ZXC21"},{"pos":3118,"sim":0.84,"virus":"Bat-SARSr-CoV ZXC21"},{"pos":3153,"sim":0.83,"virus":"Bat-SARSr-CoV ZXC21"},{"pos":3199,"sim":0.84,"virus":"Bat-SARSr-CoV ZXC21"},{"pos":3246,"sim":0.835,"virus":"Bat-SARSr-CoV ZXC21"},{"pos":3293,"sim":0.85,"virus":"Bat-SARSr-CoV ZXC21"},{"pos":3328,"sim":0.88,"virus":"Bat-SARSr-CoV ZXC21"},{"pos":3363,"sim":0.90,"virus":"Bat-SARSr-CoV ZXC21"},{"pos":3409,"sim":0.895,"virus":"Bat-SARSr-CoV ZXC21"},{"pos":3456,"sim":0.89,"virus":"Bat-SARSr-CoV ZXC21"},{"pos":3503,"sim":0.885,"virus":"Bat-SARSr-CoV ZXC21"},{"pos":3538,"sim":0.87,"virus":"Bat-SARSr-CoV ZXC21"},{"pos":3573,"sim":0.84,"virus":"Bat-SARSr-CoV ZXC21"},{"pos":3597,"sim":0.83,"virus":"Bat-SARSr-CoV ZXC21"},{"pos":3632,"sim":0.83,"virus":"Bat-SARSr-CoV ZXC21"},{"pos":3667,"sim":0.825,"virus":"Bat-SARSr-CoV ZXC21"},{"pos":3702,"sim":0.84,"virus":"Bat-SARSr-CoV ZXC21"},{"pos":3725,"sim":0.856,"virus":"Bat-SARSr-CoV ZXC21"},
{"pos":75,"sim":0.659,"virus":"Bat-SARSr-CoV ZC45"},{"pos":126,"sim":0.569,"virus":"Bat-SARSr-CoV ZC45"},{"pos":145,"sim":0.569,"virus":"Bat-SARSr-CoV ZC45"},{"pos":173,"sim":0.649,"virus":"Bat-SARSr-CoV ZC45"},{"pos":201,"sim":0.637,"virus":"Bat-SARSr-CoV ZC45"},{"pos":238,"sim":0.76,"virus":"Bat-SARSr-CoV ZC45"},{"pos":271,"sim":0.772,"virus":"Bat-SARSr-CoV ZC45"},{"pos":306,"sim":0.834,"virus":"Bat-SARSr-CoV ZC45"},{"pos":337,"sim":0.845,"virus":"Bat-SARSr-CoV ZC45"},{"pos":360,"sim":0.834,"virus":"Bat-SARSr-CoV ZC45"},{"pos":383,"sim":0.856,"virus":"Bat-SARSr-CoV ZC45"},{"pos":407,"sim":0.834,"virus":"Bat-SARSr-CoV ZC45"},{"pos":430,"sim":0.794,"virus":"Bat-SARSr-CoV ZC45"},{"pos":465,"sim":0.789,"virus":"Bat-SARSr-CoV ZC45"},{"pos":496,"sim":0.80,"virus":"Bat-SARSr-CoV ZC45"},{"pos":524,"sim":0.744,"virus":"Bat-SARSr-CoV ZC45"},{"pos":559,"sim":0.71,"virus":"Bat-SARSr-CoV ZC45"},{"pos":589,"sim":0.676,"virus":"Bat-SARSr-CoV ZC45"},{"pos":617,"sim":0.71,"virus":"Bat-SARSr-CoV ZC45"},{"pos":652,"sim":0.777,"virus":"Bat-SARSr-CoV ZC45"},{"pos":675,"sim":0.789,"virus":"Bat-SARSr-CoV ZC45"},{"pos":699,"sim":0.755,"virus":"Bat-SARSr-CoV ZC45"},{"pos":734,"sim":0.80,"virus":"Bat-SARSr-CoV ZC45"},{"pos":769,"sim":0.834,"virus":"Bat-SARSr-CoV ZC45"},{"pos":804,"sim":0.805,"virus":"Bat-SARSr-CoV ZC45"},{"pos":827,"sim":0.772,"virus":"Bat-SARSr-CoV ZC45"},{"pos":862,"sim":0.755,"virus":"Bat-SARSr-CoV ZC45"},{"pos":885,"sim":0.738,"virus":"Bat-SARSr-CoV ZC45"},{"pos":914,"sim":0.74,"virus":"Bat-SARSr-CoV ZC45"},{"pos":932,"sim":0.71,"virus":"Bat-SARSr-CoV ZC45"},{"pos":968,"sim":0.648,"virus":"Bat-SARSr-CoV ZC45"},{"pos":1003,"sim":0.665,"virus":"Bat-SARSr-CoV ZC45"},{"pos":1038,"sim":0.643,"virus":"Bat-SARSr-CoV ZC45"},{"pos":1073,"sim":0.592,"virus":"Bat-SARSr-CoV ZC45"},{"pos":1120,"sim":0.614,"virus":"Bat-SARSr-CoV ZC45"},{"pos":1178,"sim":0.705,"virus":"Bat-SARSr-CoV ZC45"},{"pos":1213,"sim":0.665,"virus":"Bat-SARSr-CoV ZC45"},{"pos":1248,"sim":0.569,"virus":"Bat-SARSr-CoV ZC45"},{"pos":1283,"sim":0.547,"virus":"Bat-SARSr-CoV ZC45"},{"pos":1306,"sim":0.581,"virus":"Bat-SARSr-CoV ZC45"},{"pos":1341,"sim":0.541,"virus":"Bat-SARSr-CoV ZC45"},{"pos":1376,"sim":0.384,"virus":"Bat-SARSr-CoV ZC45"},{"pos":1411,"sim":0.193,"virus":"Bat-SARSr-CoV ZC45"},{"pos":1435,"sim":0.316,"virus":"Bat-SARSr-CoV ZC45"},{"pos":1465,"sim":0.53,"virus":"Bat-SARSr-CoV ZC45"},{"pos":1493,"sim":0.508,"virus":"Bat-SARSr-CoV ZC45"},{"pos":1528,"sim":0.569,"virus":"Bat-SARSr-CoV ZC45"},{"pos":1563,"sim":0.592,"virus":"Bat-SARSr-CoV ZC45"},{"pos":1610,"sim":0.643,"virus":"Bat-SARSr-CoV ZC45"},{"pos":1645,"sim":0.66,"virus":"Bat-SARSr-CoV ZC45"},{"pos":1681,"sim":0.688,"virus":"Bat-SARSr-CoV ZC45"},{"pos":1716,"sim":0.727,"virus":"Bat-SARSr-CoV ZC45"},{"pos":1751,"sim":0.772,"virus":"Bat-SARSr-CoV ZC45"},{"pos":1786,"sim":0.766,"virus":"Bat-SARSr-CoV ZC45"},{"pos":1821,"sim":0.783,"virus":"Bat-SARSr-CoV ZC45"},{"pos":1867,"sim":0.761,"virus":"Bat-SARSr-CoV ZC45"},{"pos":1914,"sim":0.732,"virus":"Bat-SARSr-CoV ZC45"},{"pos":1949,"sim":0.654,"virus":"Bat-SARSr-CoV ZC45"},{"pos":1972,"sim":0.614,"virus":"Bat-SARSr-CoV ZC45"},{"pos":1996,"sim":0.62,"virus":"Bat-SARSr-CoV ZC45"},{"pos":2031,"sim":0.654,"virus":"Bat-SARSr-CoV ZC45"},{"pos":2066,"sim":0.688,"virus":"Bat-SARSr-CoV ZC45"},{"pos":2089,"sim":0.643,"virus":"Bat-SARSr-CoV ZC45"},{"pos":2112,"sim":0.643,"virus":"Bat-SARSr-CoV ZC45"},{"pos":2136,"sim":0.71,"virus":"Bat-SARSr-CoV ZC45"},{"pos":2171,"sim":0.777,"virus":"Bat-SARSr-CoV ZC45"},{"pos":2206,"sim":0.805,"virus":"Bat-SARSr-CoV ZC45"},{"pos":2253,"sim":0.811,"virus":"Bat-SARSr-CoV ZC45"},{"pos":2300,"sim":0.839,"virus":"Bat-SARSr-CoV ZC45"},{"pos":2335,"sim":0.834,"virus":"Bat-SARSr-CoV ZC45"},{"pos":2370,"sim":0.856,"virus":"Bat-SARSr-CoV ZC45"},{"pos":2405,"sim":0.834,"virus":"Bat-SARSr-CoV ZC45"},{"pos":2440,"sim":0.822,"virus":"Bat-SARSr-CoV ZC45"},{"pos":2475,"sim":0.811,"virus":"Bat-SARSr-CoV ZC45"},{"pos":2510,"sim":0.811,"virus":"Bat-SARSr-CoV ZC45"},{"pos":2545,"sim":0.732,"virus":"Bat-SARSr-CoV ZC45"},{"pos":2580,"sim":0.732,"virus":"Bat-SARSr-CoV ZC45"},{"pos":2615,"sim":0.761,"virus":"Bat-SARSr-CoV ZC45"},{"pos":2650,"sim":0.772,"virus":"Bat-SARSr-CoV ZC45"},{"pos":2685,"sim":0.744,"virus":"Bat-SARSr-CoV ZC45"},{"pos":2720,"sim":0.766,"virus":"Bat-SARSr-CoV ZC45"},{"pos":2755,"sim":0.80,"virus":"Bat-SARSr-CoV ZC45"},{"pos":2790,"sim":0.817,"virus":"Bat-SARSr-CoV ZC45"},{"pos":2825,"sim":0.789,"virus":"Bat-SARSr-CoV ZC45"},{"pos":2861,"sim":0.805,"virus":"Bat-SARSr-CoV ZC45"},{"pos":2872,"sim":0.822,"virus":"Bat-SARSr-CoV ZC45"},{"pos":2919,"sim":0.845,"virus":"Bat-SARSr-CoV ZC45"},{"pos":2966,"sim":0.845,"virus":"Bat-SARSr-CoV ZC45"},{"pos":3013,"sim":0.856,"virus":"Bat-SARSr-CoV ZC45"},{"pos":3048,"sim":0.845,"virus":"Bat-SARSr-CoV ZC45"},{"pos":3083,"sim":0.85,"virus":"Bat-SARSr-CoV ZC45"},{"pos":3118,"sim":0.845,"virus":"Bat-SARSr-CoV ZC45"},{"pos":3153,"sim":0.834,"virus":"Bat-SARSr-CoV ZC45"},{"pos":3199,"sim":0.845,"virus":"Bat-SARSr-CoV ZC45"},{"pos":3246,"sim":0.839,"virus":"Bat-SARSr-CoV ZC45"},{"pos":3293,"sim":0.856,"virus":"Bat-SARSr-CoV ZC45"},{"pos":3328,"sim":0.89,"virus":"Bat-SARSr-CoV ZC45"},{"pos":3363,"sim":0.912,"virus":"Bat-SARSr-CoV ZC45"},{"pos":3409,"sim":0.907,"virus":"Bat-SARSr-CoV ZC45"},{"pos":3456,"sim":0.901,"virus":"Bat-SARSr-CoV ZC45"},{"pos":3503,"sim":0.89,"virus":"Bat-SARSr-CoV ZC45"},{"pos":3538,"sim":0.879,"virus":"Bat-SARSr-CoV ZC45"},{"pos":3573,"sim":0.845,"virus":"Bat-SARSr-CoV ZC45"},{"pos":3597,"sim":0.834,"virus":"Bat-SARSr-CoV ZC45"},{"pos":3632,"sim":0.839,"virus":"Bat-SARSr-CoV ZC45"},{"pos":3667,"sim":0.834,"virus":"Bat-SARSr-CoV ZC45"},{"pos":3702,"sim":0.856,"virus":"Bat-SARSr-CoV ZC45"},{"pos":3725,"sim":0.867,"virus":"Bat-SARSr-CoV ZC45"}
]
},
"resolve": {"scale": {"color": "independent"}},
"spacing": 0,
"vconcat": [
{
 "width": 547, "height": 264,
 "title": {"text": "Query: Pangolin-CoV", "fontSize": 15, "fontWeight": "normal", "color": "#222", "offset": -6, "dx": -22},
 "layer": [
  {"data": {"values": [{}]}, "mark": {"type": "rect", "fill": "#f3f3f3"}, "encoding": {"x": {"datum": 22390}, "x2": {"datum": 25406}, "y": {"datum": 1.0}, "y2": {"datum": 0.4}}},
  {"data": {"name": "top"}, "mark": {"type": "line", "strokeWidth": 2.8},
   "encoding": {
    "x": {"field": "pos", "type": "quantitative", "scale": {"domain": [0, 30000], "nice": false}, "axis": {"values": [0,3000,6000,9000,12000,15000,18000,21000,24000,27000,30000], "labelExpr": "format(datum.value, ',')", "title": "Nucleotide position", "titleFontSize": 16, "titlePadding": 13}},
    "y": {"field": "sim", "type": "quantitative", "scale": {"domain": [0.4, 1.0], "nice": false, "zero": false}, "axis": {"values": [0.42, 0.6, 0.8, 1.0], "labelExpr": "datum.value == 1 ? '1.0' : format(datum.value, '.2~f')", "title": "Similarity", "titlePadding": 4}},
    "color": {"field": "virus", "type": "nominal", "scale": {"domain": ["SARS-CoV-2 WIV02", "Bat-CoV RaTG13", "Bat-SARSr-CoV ZC45", "Bat-SARSr-CoV ZXC21"], "range": ["#e8302c", "#2a8a30", "#4a72c4", "#f59030"]},
     "legend": {"orient": "none", "legendX": 28, "legendY": 151, "title": null, "symbolType": "M-1.4,0H1.4", "symbolStrokeWidth": 4.5, "symbolSize": 256, "labelFontSize": 15, "labelColor": "#222", "rowPadding": 0, "labelOffset": 7}}
   }},
  {"data": {"values": [{}]}, "mark": {"type": "rect", "fill": "#bdbdbd", "opacity": 0.5}, "encoding": {"x": {"datum": 21220}, "x2": {"datum": 22390}, "y": {"datum": 1.0}, "y2": {"datum": 0.4}}},
  {"data": {"values": [{}]}, "layer": [
    {"mark": {"type": "rule", "color": "#9a9a9a", "strokeWidth": 1.5, "strokeDash": [6, 4]}, "encoding": {"x": {"datum": 21220}}},
    {"mark": {"type": "rule", "color": "#9a9a9a", "strokeWidth": 1.5, "strokeDash": [6, 4]}, "encoding": {"x": {"datum": 22390}}},
    {"mark": {"type": "rule", "color": "#9a9a9a", "strokeWidth": 1.5, "strokeDash": [6, 4]}, "encoding": {"x": {"datum": 25406}}},
    {"mark": {"type": "text", "align": "right", "baseline": "middle", "dx": -1, "fontSize": 13, "color": "#e8413c"}, "encoding": {"x": {"datum": 21220}, "y": {"datum": 0.417}, "text": {"value": "21,220"}}},
    {"mark": {"type": "text", "align": "left", "baseline": "middle", "dx": 2, "fontSize": 13, "color": "#e8413c"}, "encoding": {"x": {"datum": 22390}, "y": {"datum": 0.417}, "text": {"value": "22,390"}}},
    {"mark": {"type": "text", "align": "left", "baseline": "middle", "dx": 2, "fontSize": 13, "color": "#e8413c"}, "encoding": {"x": {"datum": 25406}, "y": {"datum": 0.417}, "text": {"value": "25,406"}}},
    {"mark": {"type": "text", "align": "left", "baseline": "middle", "fontSize": 15, "color": "#222"}, "encoding": {"x": {"datum": 2194}, "y": {"datum": 0.711}, "text": {"value": "Whole genome"}}}
  ]}
 ]
},
{
 "width": 542, "height": 267,
 "layer": [
  {"data": {"values": [{}]}, "mark": {"type": "rect", "fill": "#f3f3f3"}, "encoding": {"x": {"datum": 0}, "x2": {"datum": 914}, "y": {"datum": 1.0}, "y2": {"datum": 0.1}}},
  {"data": {"values": [{}]}, "mark": {"type": "rect", "fill": "#fbe2d2"}, "encoding": {"x": {"datum": 1305}, "x2": {"datum": 1545}, "y": {"datum": 1.0}, "y2": {"datum": 0.1}}},
  {"data": {"name": "bottom"}, "mark": {"type": "line", "strokeWidth": 2.6},
   "encoding": {
    "x": {"field": "pos", "type": "quantitative", "scale": {"domain": [0, 3800], "nice": false}, "axis": {"values": [0,200,600,1000,1400,1800,2200,2600,3000,3400,3800], "labelExpr": "format(datum.value, ',')", "title": "Nucleotide position", "titleFontSize": 16, "titlePadding": 7}},
    "y": {"field": "sim", "type": "quantitative", "scale": {"domain": [0.1, 1.0], "nice": false, "zero": false}, "axis": {"values": [0.12, 0.2, 0.4, 0.6, 0.8, 1.0], "labelExpr": "datum.value == 1 ? '1.0' : format(datum.value, '.2~f')", "title": "Similarity", "titlePadding": 4}},
    "color": {"field": "virus", "type": "nominal", "scale": {"domain": ["SARS-CoV-2 WIV02", "Bat-CoV RaTG13", "Bat-SARSr-CoV ZC45", "Bat-SARSr-CoV ZXC21"], "range": ["#e8302c", "#2a8a30", "#4a72c4", "#f59030"]}, "legend": null}
   }},
  {"data": {"values": [{}]}, "mark": {"type": "rect", "fill": "#f3f3f3", "opacity": 0.4}, "encoding": {"x": {"datum": 0}, "x2": {"datum": 914}, "y": {"datum": 1.0}, "y2": {"datum": 0.1}}},
  {"data": {"values": [{}]}, "layer": [
    {"mark": {"type": "rule", "color": "#9a9a9a", "strokeWidth": 1.8, "strokeDash": [6, 4]}, "encoding": {"x": {"datum": 914}}},
    {"mark": {"type": "rule", "color": "#9a9a9a", "strokeWidth": 1.5, "strokeDash": [6, 4]}, "encoding": {"x": {"datum": 1305}}},
    {"mark": {"type": "rule", "color": "#9a9a9a", "strokeWidth": 1.5, "strokeDash": [6, 4]}, "encoding": {"x": {"datum": 1545}}},
    {"mark": {"type": "text", "align": "left", "baseline": "middle", "dx": 3, "fontSize": 13, "fontWeight": "bold", "color": "#e8413c"}, "encoding": {"x": {"datum": 914}, "y": {"datum": 0.13}, "text": {"value": "914"}}},
    {"mark": {"type": "text", "align": "left", "baseline": "middle", "fontSize": 15, "color": "#222"}, "encoding": {"x": {"datum": 2966}, "y": {"datum": 0.615}, "text": {"value": "Spike gene"}}}
  ]}
 ]
}
]
}
